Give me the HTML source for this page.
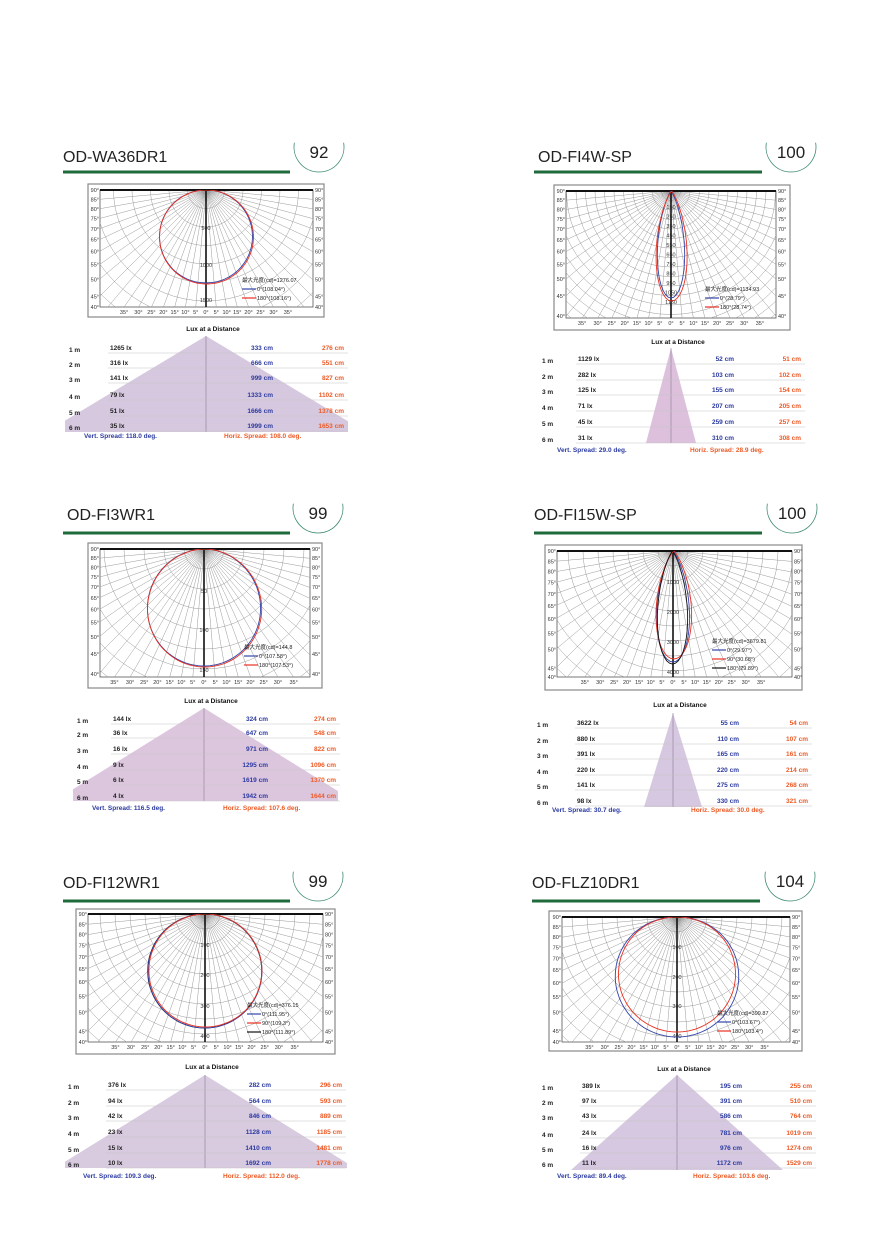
<!DOCTYPE html>
<html><head><meta charset="utf-8"><style>
html,body{margin:0;padding:0;background:#fff;width:880px;height:1245px;overflow:hidden;}
svg{display:block;}
text{font-family:"Liberation Sans","Noto Sans CJK SC",sans-serif;}
</style></head><body>
<svg id="s" width="880" height="1245" viewBox="0 0 880 1245" xmlns="http://www.w3.org/2000/svg"></svg>
<script>
var P=[
{t:"OD-WA36DR1",tx:63,ty:162,lx0:63,lx1:290,ly:172,n:"92",nx:319,ny:147,
 box:[88,184,236,133],inn:[100,190,213,117],cx:206,cy:190,gs:18.5,
 rl:[["500",228],["1000",265],["1500",300]],
 cv:[["#3344aa",93,1,0],["#e83020",94,1,0.5]],
 lg:[242,282,"最大光度(cd)=1276.07",["0°(108.04°)","180°(108.16°)"],["#3344aa","#e83020"]],
 lt:331,ax:206,ay:336,by:432,hw:160,clip:[65,336,283,96],rows:[350,365,380,397,413,428],
 c0:69,c1:110,c2:273,c3:344,
 d:[["1265 lx","333 cm","276 cm"],["316 lx","666 cm","551 cm"],["141 lx","999 cm","827 cm"],["79 lx","1333 cm","1102 cm"],["51 lx","1666 cm","1378 cm"],["35 lx","1999 cm","1653 cm"]],
 sy:438,sb:84,so:224,vs:"Vert. Spread: 118.0 deg.",hs:"Horiz. Spread: 108.0 deg.",fill:"#d6c8de"},
{t:"OD-FI4W-SP",tx:538,ty:162,lx0:534,lx1:762,ly:172,n:"100",nx:791,ny:147,
 box:[554,185,236,145],inn:[566,191,210,127],cx:671,cy:191,gs:9.5,
 rl:[["150",207],["250",216.5],["350",226],["450",235.5],["550",245],["650",254.5],["750",264],["850",273.5],["950",283],["1050",292.5],["1150",302]],
 cv:[["#3344aa",107,22,0],["#e83020",110,18,0.6]],
 lg:[705,291,"最大光度(cd)=1134.93",["0°(28.79°)","180°(28.74°)"],["#3344aa","#e83020"]],
 lt:344,ax:671,ay:348,by:443,hw:25,clip:[600,348,150,95],rows:[361,377,392,408,424,440],
 c0:542,c1:578,c2:734,c3:801,
 d:[["1129 lx","52 cm","51 cm"],["282 lx","103 cm","102 cm"],["125 lx","155 cm","154 cm"],["71 lx","207 cm","205 cm"],["45 lx","259 cm","257 cm"],["31 lx","310 cm","308 cm"]],
 sy:452,sb:557,so:690,vs:"Vert. Spread: 29.0 deg.",hs:"Horiz. Spread: 28.9 deg.",fill:"#dcc0dc"},
{t:"OD-FI3WR1",tx:67,ty:520,lx0:63,lx1:290,ly:533,n:"99",nx:318,ny:508,
 box:[88,543,234,145],inn:[100,549,210,128],cx:204,cy:549,gs:20,
 rl:[["50",591],["100",630],["150",670]],
 cv:[["#3344aa",117,1.1,0],["#e83020",118,1.1,0.6]],
 lg:[244,649,"最大光度(cd)=144.8",["0°(107.58°)","180°(107.53°)"],["#3344aa","#e83020"]],
 lt:703,ax:204,ay:708,by:801,hw:150,clip:[73,708,265,93],rows:[721,735,751,767,782,798],
 c0:77,c1:113,c2:268,c3:336,
 d:[["144 lx","324 cm","274 cm"],["36 lx","647 cm","548 cm"],["16 lx","971 cm","822 cm"],["9 lx","1295 cm","1096 cm"],["6 lx","1619 cm","1370 cm"],["4 lx","1942 cm","1644 cm"]],
 sy:810,sb:92,so:223,vs:"Vert. Spread: 116.5 deg.",hs:"Horiz. Spread: 107.6 deg.",fill:"#dcc6de"},
{t:"OD-FI15W-SP",tx:534,ty:520,lx0:534,lx1:762,ly:533,n:"100",nx:792,ny:508,
 box:[545,545,257,145],inn:[557,551,235,126],cx:673,cy:551,gs:15,
 rl:[["1000",582],["2000",612],["3000",642],["4000",672]],
 cv:[["#3344aa",111,16,0],["#e83020",108,13,0.8],["#111",113,20,-0.5]],
 lg:[712,643,"最大光度(cd)=3679.81",["0°(29.97°)","90°(30.68°)","180°(29.89°)"],["#3344aa","#e83020","#111"]],
 lt:707,ax:673,ay:713,by:807,hw:29,clip:[600,713,150,94],rows:[725,741,756,772,787,803],
 c0:537,c1:577,c2:739,c3:808,
 d:[["3622 lx","55 cm","54 cm"],["880 lx","110 cm","107 cm"],["391 lx","165 cm","161 cm"],["220 lx","220 cm","214 cm"],["141 lx","275 cm","268 cm"],["98 lx","330 cm","321 cm"]],
 sy:812,sb:552,so:691,vs:"Vert. Spread: 30.7 deg.",hs:"Horiz. Spread: 30.0 deg.",fill:"#d6c8e0"},
{t:"OD-FI12WR1",tx:63,ty:888,lx0:63,lx1:290,ly:901,n:"99",nx:318,ny:876,
 box:[76,909,259,145],inn:[88,914,235,128],cx:205,cy:914,gs:15,
 rl:[["100",945],["200",975],["300",1006],["400",1036]],
 cv:[["#111",114,1,-0.3],["#3344aa",114,1,0],["#e83020",113,1,0.4]],
 lg:[247,1007,"最大光度(cd)=376.15",["0°(111.95°)","90°(109.3°)","180°(111.89°)"],["#3344aa","#e83020","#111"]],
 lt:1069,ax:205,ay:1075,by:1168,hw:150,clip:[65,1075,282,93],rows:[1087,1103,1118,1134,1150,1165],
 c0:68,c1:108,c2:271,c3:342,
 d:[["376 lx","282 cm","296 cm"],["94 lx","564 cm","593 cm"],["42 lx","846 cm","889 cm"],["23 lx","1128 cm","1185 cm"],["15 lx","1410 cm","1481 cm"],["10 lx","1692 cm","1778 cm"]],
 sy:1178,sb:83,so:223,vs:"Vert. Spread: 109.3 deg.",hs:"Horiz. Spread: 112.0 deg.",fill:"#d8cadf"},
{t:"OD-FLZ10DR1",tx:532,ty:888,lx0:532,lx1:760,ly:901,n:"104",nx:790,ny:876,
 box:[549,911,253,140],inn:[562,917,228,125],cx:677,cy:917,gs:15,
 rl:[["100",947],["200",977],["300",1006],["400",1036]],
 cv:[["#3344aa",120,0.92,0],["#e83020",115,0.95,0]],
 lg:[717,1015,"最大光度(cd)=399.87",["0°(103.67°)","180°(103.4°)"],["#3344aa","#e83020"]],
 lt:1071,ax:677,ay:1075,by:1170,hw:106,clip:[540,1075,280,95],rows:[1088,1103,1118,1135,1150,1165],
 c0:542,c1:582,c2:742,c3:812,
 d:[["389 lx","195 cm","255 cm"],["97 lx","391 cm","510 cm"],["43 lx","586 cm","764 cm"],["24 lx","781 cm","1019 cm"],["16 lx","976 cm","1274 cm"],["11 lx","1172 cm","1529 cm"]],
 sy:1178,sb:557,so:693,vs:"Vert. Spread: 89.4 deg.",hs:"Horiz. Spread: 103.6 deg.",fill:"#d6c8e0"}
];
var o=[];
function T(x,y,s,sz,c,w,a){o.push('<text x="'+x+'" y="'+y+'" font-size="'+sz+'" fill="'+c+'"'+(w?' font-weight="bold"':'')+(a?' text-anchor="'+a+'"':'')+'>'+s+'</text>');}
P.forEach(function(p,i){
 T(p.tx,p.ty,p.t,16,"#222");
 o.push('<line x1="'+p.lx0+'" y1="'+p.ly+'" x2="'+p.lx1+'" y2="'+p.ly+'" stroke="#1f6b3c" stroke-width="3"/>');
 var r=25,a1=190*Math.PI/180,a2=350*Math.PI/180;
 o.push('<path d="M'+(p.nx+r*Math.cos(a1))+' '+(p.ny+r*Math.sin(a1))+' A'+r+' '+r+' 0 1 0 '+(p.nx+r*Math.cos(a2))+' '+(p.ny+r*Math.sin(a2))+'" fill="none" stroke="#3a8a6e" stroke-width="0.8"/>');
 T(p.nx,p.ny+11,p.n,17,"#222",0,"middle");
 var b=p.box,n=p.inn;
 o.push('<rect x="'+b[0]+'" y="'+b[1]+'" width="'+b[2]+'" height="'+b[3]+'" fill="#fff" stroke="#888" stroke-width="1.2"/>');
 o.push('<clipPath id="c'+i+'"><rect x="'+n[0]+'" y="'+n[1]+'" width="'+n[2]+'" height="'+n[3]+'"/></clipPath>');
 o.push('<rect x="'+n[0]+'" y="'+n[1]+'" width="'+n[2]+'" height="'+n[3]+'" fill="#fff" stroke="#555" stroke-width="0.8"/>');
 var g='<g clip-path="url(#c'+i+')" stroke="#999" stroke-width="0.5" fill="none">';
 for(var d=-85;d<=85;d+=5){var t=d*Math.PI/180;g+='<line x1="'+p.cx+'" y1="'+p.cy+'" x2="'+(p.cx+400*Math.sin(t))+'" y2="'+(p.cy+400*Math.cos(t))+'"/>';}
 for(var rr=p.gs;rr<400;rr+=p.gs)g+='<circle cx="'+p.cx+'" cy="'+p.cy+'" r="'+rr+'"/>';
 g+='</g>';o.push(g);
 o.push('<line x1="'+n[0]+'" y1="'+p.cy+'" x2="'+(n[0]+n[2])+'" y2="'+p.cy+'" stroke="#111" stroke-width="2"/>');
 o.push('<line x1="'+p.cx+'" y1="'+p.cy+'" x2="'+p.cx+'" y2="'+(n[1]+n[3])+'" stroke="#111" stroke-width="1.6"/>');
 var hwid=n[2]/2,H=n[1]+n[3]-p.cy;
 for(var a=90;a>=40;a-=5){var y=p.cy+hwid/Math.tan(a*Math.PI/180);if(y>n[1]+n[3])y=n[1]+n[3];
  T(n[0]-1,y+2,a+"°",5.5,"#333",0,"end");T(n[0]+n[2]+2,y+2,a+"°",5.5,"#333");}
 for(var a=35;a>=0;a-=5){var dx=H*Math.tan(a*Math.PI/180);if(dx>hwid-4)continue;
  T(p.cx-dx,n[1]+n[3]+7,a+"°",5.5,"#333",0,"middle");if(a>0)T(p.cx+dx,n[1]+n[3]+7,a+"°",5.5,"#333",0,"middle");}
 p.rl.forEach(function(l){T(p.cx,l[1]+2,l[0],5.5,"#333",0,"middle");});
 p.cv.forEach(function(c){var s="";for(var d=-90;d<=90;d+=1.5){var t=d*Math.PI/180,cs=Math.cos(t);var rv=c[1]*Math.pow(Math.max(cs,0),c[2]);var x=p.cx+c[3]+rv*Math.sin(t),y=p.cy+rv*cs;s+=(s?"L":"M")+x.toFixed(1)+" "+y.toFixed(1);}
  o.push('<path d="'+s+'" fill="none" stroke="'+c[0]+'" stroke-width="0.9" clip-path="url(#c'+i+')"/>');});
 var L=p.lg;T(L[0],L[1],L[2],5.5,"#222");
 L[3].forEach(function(s,k){var y=L[1]+9+k*9;o.push('<line x1="'+L[0]+'" y1="'+(y-2)+'" x2="'+(L[0]+14)+'" y2="'+(y-2)+'" stroke="'+L[4][k]+'" stroke-width="1.2"/>');T(L[0]+15,y,s,5.5,"#222");});
 T(p.ax+7,p.lt,"Lux at a Distance",6.5,"#111",1,"middle");
 var cl=p.clip;
 o.push('<clipPath id="t'+i+'"><rect x="'+cl[0]+'" y="'+cl[1]+'" width="'+cl[2]+'" height="'+cl[3]+'"/></clipPath>');
 o.push('<polygon points="'+p.ax+','+p.ay+' '+(p.ax-p.hw)+','+p.by+' '+(p.ax+p.hw)+','+p.by+'" fill="'+p.fill+'" clip-path="url(#t'+i+')"/>');
 o.push('<line x1="'+p.ax+'" y1="'+p.ay+'" x2="'+p.ax+'" y2="'+p.by+'" stroke="#8a7a95" stroke-width="0.6"/>');
 p.rows.forEach(function(y,k){
  o.push('<line x1="'+(p.c1-2)+'" y1="'+(y+3)+'" x2="'+(p.c3+4)+'" y2="'+(y+3)+'" stroke="#c4c4c4" stroke-width="0.6"/>');
  T(p.c0,y+2,(k+1)+" m",6.5,"#222",1);T(p.c1,y,p.d[k][0],6.5,"#222",1);
  T(p.c2,y,p.d[k][1],6.5,"#2b3aa0",1,"end");T(p.c3,y,p.d[k][2],6.5,"#ee5a26",1,"end");});
 T(p.sb,p.sy,p.vs,6.5,"#2b3aa0",1);T(p.so,p.sy,p.hs,6.5,"#ee5a26",1);
});
document.getElementById("s").innerHTML='<rect width="880" height="1245" fill="#fff"/>'+o.join("");
</script>
</body></html>
